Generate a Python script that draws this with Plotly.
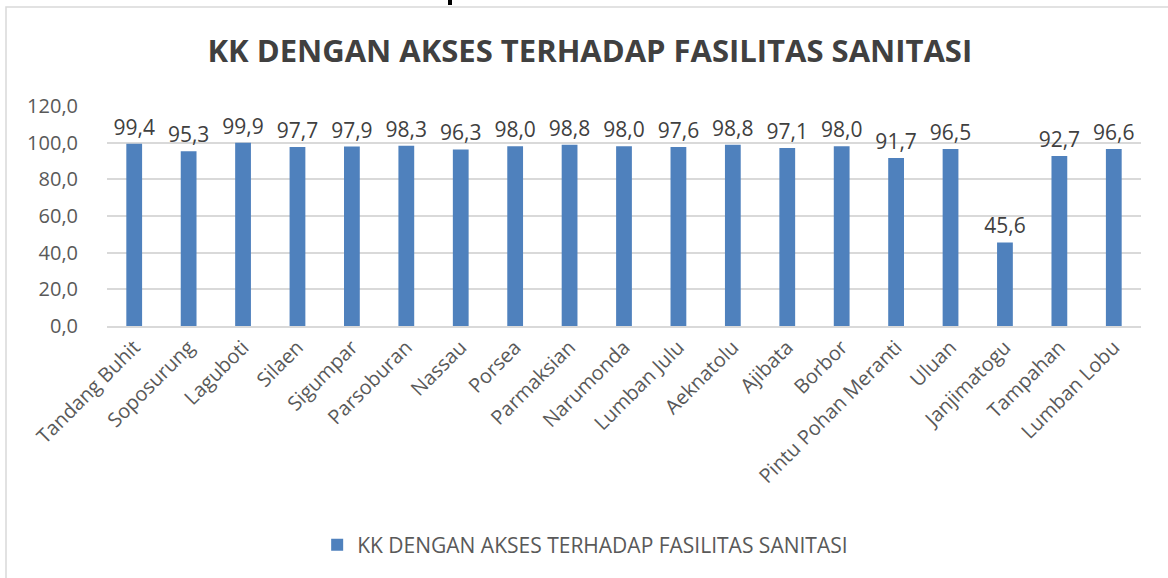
import plotly.graph_objects as go

categories = ["Tandang Buhit", "Soposurung", "Laguboti", "Silaen", "Sigumpar", "Parsoburan",
              "Nassau", "Porsea", "Parmaksian", "Narumonda", "Lumban Julu", "Aeknatolu",
              "Ajibata", "Borbor", "Pintu Pohan Meranti", "Uluan", "Janjimatogu",
              "Tampahan", "Lumban Lobu"]
values = [99.4, 95.3, 99.9, 97.7, 97.9, 98.3, 96.3, 98.0, 98.8, 98.0, 97.6, 98.8,
          97.1, 98.0, 91.7, 96.5, 45.6, 92.7, 96.6]
series_name = "KK DENGAN AKSES TERHADAP FASILITAS SANITASI"
title_text = "KK DENGAN AKSES TERHADAP FASILITAS SANITASI"
y_ticks = [0, 20, 40, 60, 80, 100, 120]

W, H = 1168, 578
L, R, T, B = 107, 27, 106, 252
pw, ph = W - L - R, H - T - B

def px(x):
    return (x - L) / pw

def py(y):
    return (H - B - y) / ph

fig = go.Figure()
fig.add_trace(go.Bar(
    x=categories, y=values, name=series_name,
    marker=dict(color="#4F81BD", line=dict(width=0)),
    texttemplate="%{y:.1f}", textposition="outside", constraintext="none",
    textfont=dict(family="Open Sans", size=21, color="#404040"),
    cliponaxis=False,
))

fig.update_layout(
    width=W, height=H,
    margin=dict(l=L, r=R, t=T, b=B, autoexpand=False),
    paper_bgcolor="white", plot_bgcolor="white",
    separators=",.",
    bargap=0.71,
    showlegend=True,
    font=dict(family="Open Sans", color="#595959"),
    title=dict(text="<b>" + title_text + "</b>", x=0.505, xref="container", xanchor="center",
               y=1 - 51 / H, yref="container", yanchor="middle",
               font=dict(family="Open Sans", size=31, color="#404040")),
    legend=dict(orientation="h", x=0.501, xref="container", xanchor="center",
                y=1 - 545 / H, yref="container", yanchor="middle",
                itemwidth=30,
                font=dict(family="Open Sans", size=21, color="#595959")),
    xaxis=dict(tickangle=-45, tickfont=dict(family="Open Sans", size=20, color="#595959"),
               showline=True, linecolor="#D9D9D9", linewidth=1.5, showgrid=False,
               ticks="", fixedrange=True),
    yaxis=dict(range=[0, 120], tickvals=y_ticks, tickformat=".1f",
               tickfont=dict(family="Open Sans", size=20, color="#595959"),
               showgrid=True, gridcolor="#D9D9D9", gridwidth=1.5, zeroline=False,
               showline=False, ticks="outside", ticklen=24, tickcolor="rgba(0,0,0,0)"),
    shapes=[
        dict(type="rect", xref="paper", yref="paper",
             x0=px(6), x1=px(1175), y0=py(7), y1=py(590),
             line=dict(color="#D9D9D9", width=1.5), fillcolor="rgba(0,0,0,0)", layer="below"),
        dict(type="rect", xref="paper", yref="paper",
             x0=px(448), x1=px(452), y0=py(5), y1=py(-2),
             line=dict(width=0), fillcolor="black"),
    ],
)

fig.write_html("out.html", config={"displayModeBar": False},
               post_script="document.body.style.margin='0';document.body.style.overflow='hidden';")
